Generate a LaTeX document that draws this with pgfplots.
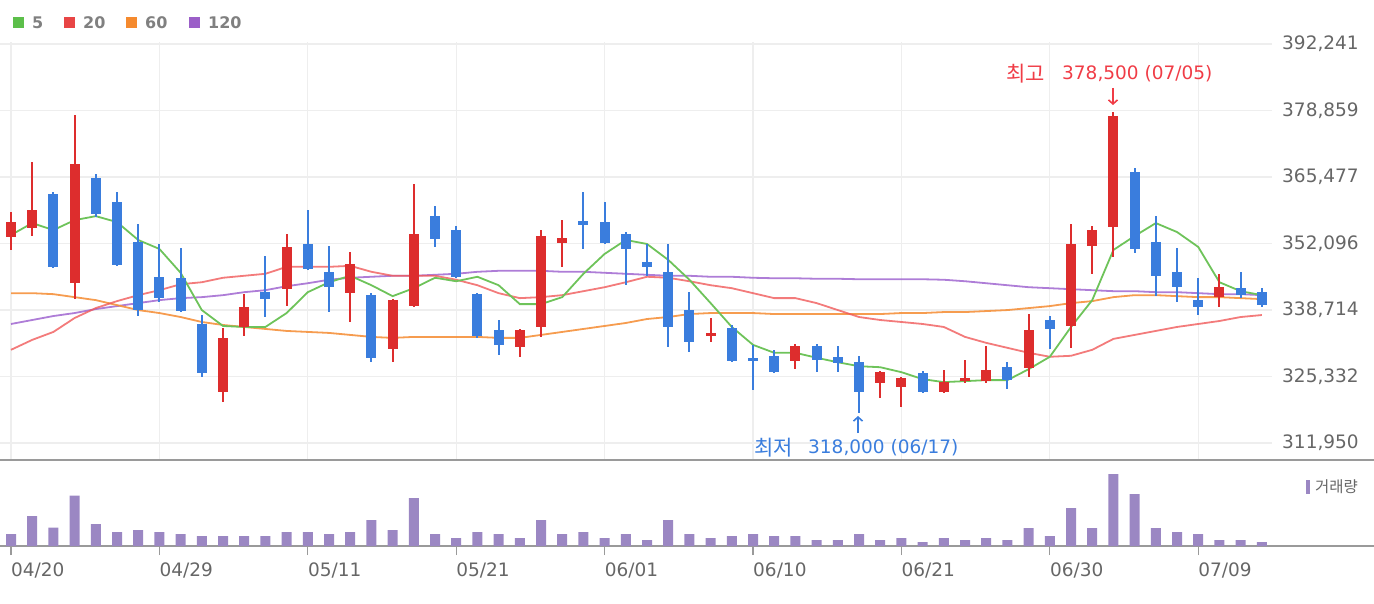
\documentclass[border=0pt]{standalone}
\usepackage{pgfplots}
\pgfplotsset{compat=1.18}
\usepackage{pgfplotstable}
\usetikzlibrary{arrows.meta}
\usepackage{fontspec}
\setmainfont{DejaVu Sans}
\newfontfamily\kr{Noto Sans CJK KR}
\definecolor{cup}{HTML}{DD2D2D}
\definecolor{cdn}{HTML}{3A7DDD}
\definecolor{mafive}{HTML}{6EC35A}
\definecolor{matwenty}{HTML}{F05A5A}
\definecolor{masixty}{HTML}{F5913C}
\definecolor{maonetwenty}{HTML}{A066D0}
\definecolor{lgreen}{HTML}{5CBF4A}
\definecolor{lred}{HTML}{E84545}
\definecolor{lorange}{HTML}{F58A2E}
\definecolor{lpurple}{HTML}{9B5FC8}
\definecolor{volc}{HTML}{9B87C3}
\definecolor{gridgray}{HTML}{EEEEEE}
\definecolor{axisgray}{HTML}{9A9A9A}
\definecolor{labgray}{HTML}{666666}
\definecolor{hic}{HTML}{F03C46}
\definecolor{loc}{HTML}{3A7DDD}

\pgfplotstableread{
x o h l c
0 353400 358400 350800 356400
1 355200 368500 353600 358800
3 344100 378000 340900 368100
10 322200 335100 320200 333100
11 335300 341900 333500 339300
13 342900 354000 339500 351400
16 342100 350400 336300 348000
18 330900 340900 328300 340700
19 339500 364100 339300 354000
24 331300 334900 329300 334700
25 335300 354800 333300 353600
26 352200 356800 347400 353200
33 333500 337100 332300 334100
37 328500 331900 326800 331500
41 324000 326400 321000 326200
42 323200 325200 319200 325000
44 322200 326600 322000 324200
45 324400 328700 324000 325000
46 324400 331500 324000 326600
48 327000 337900 325200 334700
50 335500 356000 331100 352000
51 351600 355600 346000 354800
52 355400 378500 349400 377800
57 341300 346000 339300 343300
}\up

\pgfplotstableread{
x o h l c
2 362100 362500 347200 347400
4 365300 366100 357400 358000
5 360400 362500 347600 347800
6 352400 356000 337500 338700
7 345400 352000 340300 341100
8 345200 351200 338300 338500
9 335900 337700 325200 326000
12 342300 349600 337300 340900
14 352000 358800 346800 347000
15 346400 351600 338300 343300
17 341700 342100 328300 329100
20 357600 359600 351400 353000
21 354800 355600 345200 345400
22 341900 342100 333100 333500
23 334700 336700 329700 331700
27 356600 362500 351000 355800
28 356400 360400 352000 352200
29 354000 354400 343700 351000
30 348400 352000 345600 347400
31 346400 352000 331300 335300
32 338700 342300 330300 332300
34 335100 335700 328300 328500
35 329100 331700 322600 328500
36 329500 330700 326000 326200
38 331500 331900 326200 328700
39 329300 331500 326200 328000
40 328300 329500 318000 322200
43 326000 326400 322000 322200
47 327200 328300 322800 324600
49 336700 337500 330900 334900
53 366500 367300 350200 351000
54 352400 357600 341500 345600
55 346400 351200 340300 343300
56 340700 345200 337700 339300
58 343100 346400 341100 341700
59 342300 343100 339300 339700
}\down

\pgfplotstableread{
x m5 m20 m60 m120
0 353800 330700 342100 335900
1 356200 332700 342100 336700
2 354800 334300 341900 337500
3 356800 337100 341300 338100
4 357600 339100 340700 338900
5 356400 340500 339700 339500
6 352800 341700 338700 340100
7 351000 342700 338100 340700
8 346200 343900 337300 341100
9 338700 344300 336300 341300
10 335500 345200 335700 341700
11 335300 345600 335300 342300
12 335300 346000 334900 342700
13 338100 347400 334500 343500
14 342300 347400 334300 344100
15 344300 347400 334100 344800
16 345600 347600 333700 345200
17 343700 346400 333300 345400
18 341500 345600 333100 345600
19 343100 345600 333300 345600
20 345200 345600 333300 345800
21 344500 344800 333300 346000
22 345400 343700 333300 346400
23 343700 342100 333100 346600
24 339900 341100 333100 346600
25 339900 341300 333700 346600
26 341300 341700 334300 346400
27 346000 342500 334900 346400
28 350000 343300 335500 346200
29 352800 344300 336100 346000
30 352000 345400 336900 345800
31 348800 345200 337300 345600
32 344800 344500 337900 345600
33 340100 343700 338100 345400
34 335300 343100 338100 345400
35 331700 342100 338100 345200
36 330100 341100 337900 345100
37 330100 341100 337900 345100
38 329100 340100 337900 345000
39 328200 338700 337900 345000
40 327400 337300 337900 344900
41 327200 336700 337900 344900
42 326200 336300 338100 344900
43 324800 335900 338100 344900
44 324200 335300 338300 344800
45 324400 333300 338300 344500
46 324600 332100 338500 344100
47 324600 331100 338700 343700
48 326800 330100 339100 343300
49 329300 329300 339500 343100
50 335300 329500 340100 342900
51 340700 330700 340500 342700
52 350800 332900 341300 342500
53 353600 333700 341700 342500
54 356200 334500 341700 342300
55 354400 335300 341500 342300
56 351400 335900 341300 342100
57 344300 336500 341300 341900
58 342500 337300 341100 341900
59 341700 337700 340900 341700
}\ma

\pgfplotstableread{
x v
0 36
1 90
2 55
3 151
4 66
5 42
6 48
7 42
8 36
9 30
10 30
11 30
12 30
13 42
14 42
15 36
16 42
17 78
18 48
19 144
20 36
21 24
22 42
23 36
24 24
25 78
26 36
27 42
28 24
29 36
30 18
31 78
32 36
33 24
34 30
35 36
36 30
37 30
38 18
39 18
40 36
41 18
42 24
43 12
44 24
45 18
46 24
47 18
48 54
49 30
50 114
51 54
52 216
53 156
54 54
55 42
56 36
57 18
58 18
59 12
}\vol

\pgfplotsset{
  candle/.style 2 args={draw=none, mark=none, forget plot,
    error bars/.cd, y dir=both, y explicit, error mark=none,
    error bar style={line width=#1, draw=#2}},
}

\begin{document}
\begin{tikzpicture}
\path[use as bounding box] (0pt,0pt) rectangle (1374pt,-604pt);

% price panel
\begin{axis}[at={(0pt,-460pt)}, anchor=south west, scale only axis,
  width=1272pt, height=418pt,
  xmin=-0.519, xmax=59.48, ymin=308529, ymax=392643,
  axis line style={draw=none}, major tick length=0pt,
  scaled y ticks=false,
  xtick={0,7,...,56}, xticklabels={},
  ytick={311950,325332,338714,352096,365477,378859,392241},
  yticklabels={{311,950},{325,332},{338,714},{352,096},{365,477},{378,859},{392,241}},
  yticklabel pos=right,
  yticklabel style={anchor=west, inner sep=0pt, xshift=10pt, font=\fontsize{18.5}{20}\selectfont, text=labgray},
  grid=major, grid style={draw=gridgray, line width=1.3pt},
  clip=true]
\addplot[maonetwenty, line width=1.8pt, mark=none, opacity=0.85] table[x=x,y=m120]{\ma};
\addplot[masixty, line width=1.8pt, mark=none, opacity=0.9] table[x=x,y=m60]{\ma};
\addplot[matwenty, line width=1.8pt, mark=none, opacity=0.8] table[x=x,y=m20]{\ma};
\addplot[mafive, line width=1.8pt, mark=none] table[x=x,y=m5]{\ma};
% wicks
\addplot[candle={2pt}{cup}]
  table[x=x, y expr={(\thisrow{h}+\thisrow{l})/2}, y error expr={(\thisrow{h}-\thisrow{l})/2}]{\up};
\addplot[candle={2pt}{cdn}]
  table[x=x, y expr={(\thisrow{h}+\thisrow{l})/2}, y error expr={(\thisrow{h}-\thisrow{l})/2}]{\down};
% bodies
\addplot[candle={10pt}{cup}]
  table[x=x, y expr={(\thisrow{o}+\thisrow{c})/2}, y error expr={max(abs(\thisrow{o}-\thisrow{c})/2,150)}]{\up};
\addplot[candle={10pt}{cdn}]
  table[x=x, y expr={(\thisrow{o}+\thisrow{c})/2}, y error expr={max(abs(\thisrow{o}-\thisrow{c})/2,150)}]{\down};
\end{axis}

% volume panel
\begin{axis}[at={(0pt,-546pt)}, anchor=south west, scale only axis,
  width=1374pt, height=86pt,
  xmin=-0.519, xmax=64.29, ymin=0, ymax=258,
  axis x line*=bottom, axis y line=none,
  axis line style={draw=axisgray, line width=1.8pt},
  xtick={0,7,...,56},
  xticklabels={04/20,04/29,05/11,05/21,06/01,06/10,06/21,06/30,07/09},
  tick align=outside, major tick length=9pt,
  tick style={draw=axisgray, line width=1.3pt},
  xticklabel style={anchor=north west, inner sep=0pt, yshift=-8pt, font=\fontsize{18.5}{20}\selectfont, text=labgray},
  ybar, bar width=10pt, clip=false]
\addplot[fill=volc, draw=none] table[x=x,y=v]{\vol};
\draw[axisgray, line width=1.8pt] (rel axis cs:0,1) -- (rel axis cs:1,1);
\end{axis}

% legend
\fill[lgreen] (13pt,-17pt) rectangle (24pt,-28pt);
\node[anchor=west, inner sep=0pt, text=gray, font=\bfseries\fontsize{16}{18}\selectfont] at (32pt,-22.5pt) {5};
\fill[lred] (64pt,-17pt) rectangle (75pt,-28pt);
\node[anchor=west, inner sep=0pt, text=gray, font=\bfseries\fontsize{16}{18}\selectfont] at (83pt,-22.5pt) {20};
\fill[lorange] (126pt,-17pt) rectangle (137pt,-28pt);
\node[anchor=west, inner sep=0pt, text=gray, font=\bfseries\fontsize{16}{18}\selectfont] at (145pt,-22.5pt) {60};
\fill[lpurple] (189pt,-17pt) rectangle (200pt,-28pt);
\node[anchor=west, inner sep=0pt, text=gray, font=\bfseries\fontsize{16}{18}\selectfont] at (208pt,-22.5pt) {120};

% volume legend
\fill[volc] (1306pt,-480pt) rectangle (1310pt,-494pt);
\node[anchor=west, inner sep=0pt, text=labgray, font=\kr\fontsize{15.5}{16}\selectfont] at (1315pt,-487pt) {거래량};

% max / min annotations
\node[anchor=west, inner sep=0pt, text=hic, font=\kr\fontsize{21}{22}\selectfont] at (1006pt,-74pt) {최고};
\node[anchor=west, inner sep=0pt, text=hic, font=\fontsize{18.5}{20}\selectfont] at (1062pt,-74pt) {378,500 (07/05)};
\draw[hic, line width=1.6pt, -{Straight Barb[length=4pt,width=9pt]}] (1113pt,-88pt) -- (1113pt,-105pt);
\node[anchor=west, inner sep=0pt, text=loc, font=\kr\fontsize{21}{22}\selectfont] at (754pt,-448pt) {최저};
\node[anchor=west, inner sep=0pt, text=loc, font=\fontsize{18.5}{20}\selectfont] at (808pt,-448pt) {318,000 (06/17)};
\draw[loc, line width=1.6pt, -{Straight Barb[length=4pt,width=9pt]}] (858pt,-433pt) -- (858pt,-416pt);
\end{tikzpicture}
\end{document}
